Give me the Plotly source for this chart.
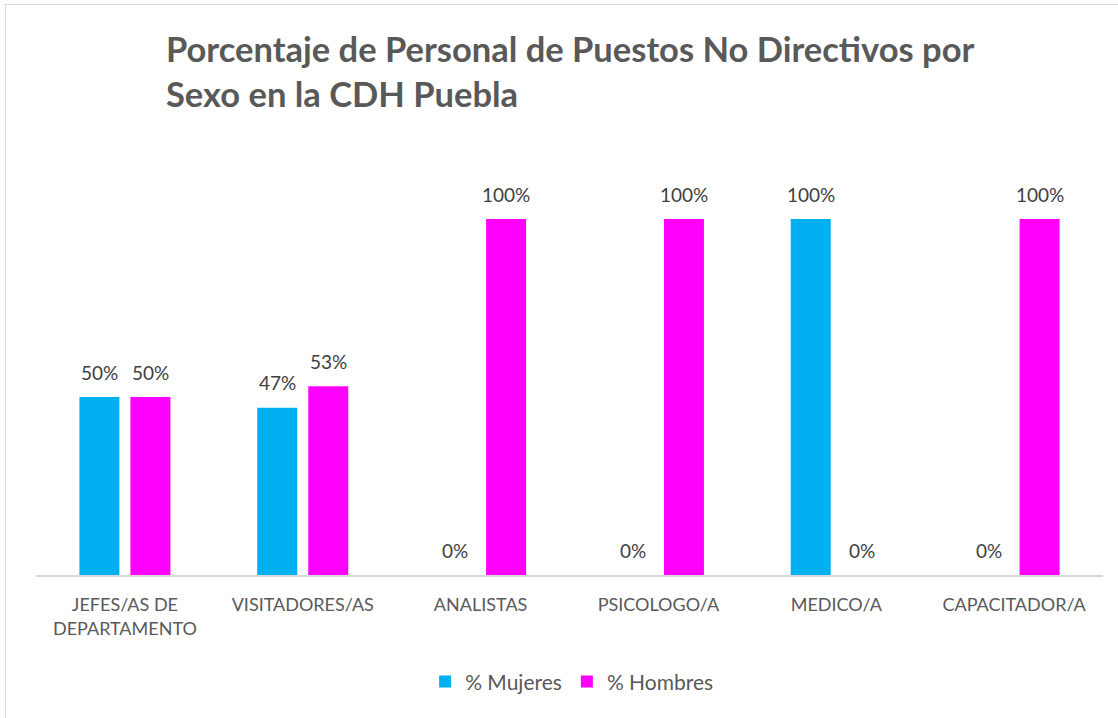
import plotly.graph_objects as go

categories = ["JEFES/AS DE<br>DEPARTAMENTO", "VISITADORES/AS", "ANALISTAS",
              "PSICOLOGO/A", "MEDICO/A", "CAPACITADOR/A"]
mujeres = [50, 47, 0, 0, 100, 0]
hombres = [50, 53, 100, 100, 0, 100]
series_names = ["% Mujeres", "% Hombres"]
colors = ["#00B0F0", "#FF00FF"]

FONT = "Lato, Carlito, 'Open Sans', sans-serif"

fig = go.Figure()
for name, vals, col in zip(series_names, [mujeres, hombres], colors):
    fig.add_trace(go.Bar(x=categories, y=vals, name=name, marker_color=col,
                         marker_line_width=0, hoverinfo="skip"))

# data labels
for vals, shift in [(mujeres, -25.5), (hombres, 25.5)]:
    for c, v in zip(categories, vals):
        fig.add_annotation(x=c, y=v, xref="x", yref="y", text=f"{v}%",
                           showarrow=False, xshift=shift, yshift=25,
                           font=dict(family=FONT, size=19, color="#404040"))

fig.update_layout(
    width=1118, height=718,
    margin=dict(l=36, r=15, t=219, b=143),
    paper_bgcolor="white", plot_bgcolor="white",
    barmode="group", bargap=0.426, bargroupgap=0.216,
    showlegend=True,
    legend=dict(orientation="h", x=0.502, xanchor="center", y=-0.30,
                yanchor="middle", font=dict(family=FONT, size=21, color="#595959"),
                itemwidth=30, traceorder="normal"),
    annotations=list(fig.layout.annotations) + [
        dict(text="<b>Porcentaje de Personal de Puestos No Directivos por<br>Sexo en la CDH Puebla</b>",
             xref="paper", yref="paper", x=(164 - 36) / 1067, y=(575 - 26) / 356,
             xanchor="left", yanchor="top", align="left", showarrow=False,
             font=dict(family=FONT, size=34.5, color="#595959"))
    ],
    shapes=[
        dict(type="line", xref="paper", yref="paper",
             x0=(4 - 36) / 1067, x1=(1118 - 36) / 1067,
             y0=(575 - 4.5) / 356, y1=(575 - 4.5) / 356,
             line=dict(color="#d9d9d9", width=1)),
        dict(type="line", xref="paper", yref="paper",
             x0=(5.5 - 36) / 1067, x1=(5.5 - 36) / 1067,
             y0=(575 - 4.5) / 356, y1=(575 - 718) / 356,
             line=dict(color="#d9d9d9", width=1)),
    ],
)
fig.update_xaxes(showline=True, linecolor="#d9d9d9", linewidth=1.5,
                 showgrid=False, ticks="", ticklabelstandoff=13,
                 tickfont=dict(family=FONT, size=18, color="#595959"))
fig.update_yaxes(range=[0, 100], visible=False, showgrid=False)

fig.write_html("out.html", config={"displayModeBar": False},
               post_script="document.body.style.margin='0';")
